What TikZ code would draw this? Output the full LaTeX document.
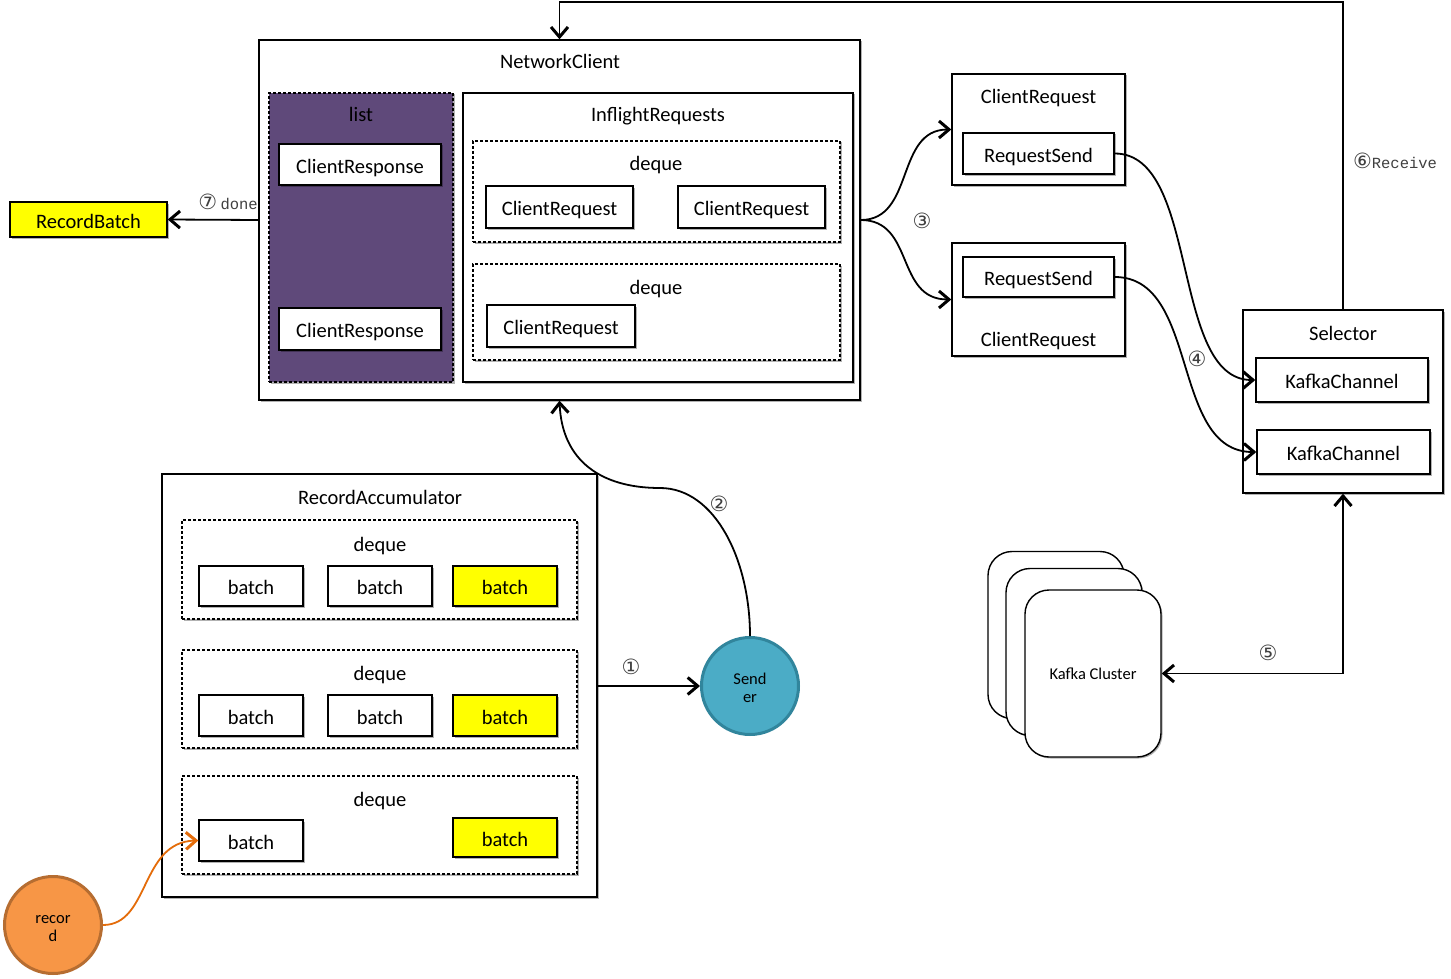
\documentclass[tikz,border=0pt]{standalone}
\usepackage{fontspec}
\setmainfont{Carlito}
\newfontfamily\numfont{DejaVu Sans}
\newfontfamily\labfont{Liberation Mono}
\usetikzlibrary{arrows.meta,shadows}
\definecolor{listpurple}{HTML}{5F497A}
\definecolor{sendfill}{HTML}{4BACC6}
\definecolor{senddraw}{HTML}{31859C}
\definecolor{recfill}{HTML}{F79646}
\definecolor{recdraw}{HTML}{B66D31}
\definecolor{recarrow}{HTML}{E46C0A}
\definecolor{yel}{HTML}{FFFF00}
\tikzset{
  shd/.style={drop shadow={shadow xshift=1.5pt,shadow yshift=-1.5pt,opacity=0.3,fill=black}},
  box/.style={draw=black, line width=1.4pt, fill=white, inner sep=0pt, text height=19pt, text depth=2pt, shd},
  dbox/.style={box, dashed, dash pattern=on 3pt off 2pt},
  ybox/.style={box, fill=yel},
  ttl/.style={inner sep=0pt, text height=18pt, text depth=2pt},
  lab/.style={inner sep=0pt, text=black!75, font=\numfont\fontsize{21}{24}\selectfont},
  arr/.style={line width=1.8pt, -{Straight Barb[length=10pt,width=17pt,line width=3pt]}},
  darr/.style={line width=1.8pt, {Straight Barb[length=10pt,width=17pt,line width=3pt]}-{Straight Barb[length=10pt,width=17pt,line width=3pt]}},
  kbox/.style={draw=black, line width=1.4pt, fill=white, rounded corners=24pt, minimum width=136pt, minimum height=167pt, shd},
}
\begin{document}
\begin{tikzpicture}[x=1pt,y=-1pt, font=\fontsize{20.5}{24}\selectfont]
\useasboundingbox[fill=white] (0,0) rectangle (1451,979);

% NetworkClient
\node[box, minimum width=601pt, minimum height=360pt] (nc) at (559.5,220) {};
\node[ttl] (nct) at (560,61) {NetworkClient};
\node[dbox, fill=listpurple, minimum width=184pt, minimum height=289pt] (lst) at (361,237.5) {};
\node[ttl] (lstt) at (361,114) {list};
\node[box, minimum width=162pt, minimum height=41pt] (cr1) at (360,164.5) {ClientResponse};
\node[box, minimum width=162pt, minimum height=42pt] (cr2) at (360,329) {ClientResponse};
\node[box, minimum width=390pt, minimum height=289pt] (inf) at (658,237.5) {};
\node[ttl] (inft) at (658,114) {InflightRequests};
\node[dbox, minimum width=367pt, minimum height=101pt] (dq1) at (656.5,191.5) {};
\node[ttl] (dq1t) at (656,163) {deque};
\node[box, minimum width=147pt, minimum height=42pt] (rqa) at (559.5,207) {ClientRequest};
\node[box, minimum width=147pt, minimum height=42pt] (rqb) at (751.5,207) {ClientRequest};
\node[dbox, minimum width=367pt, minimum height=96pt] (dq2) at (656.5,312) {};
\node[ttl] (dq2t) at (656,286) {deque};
\node[box, minimum width=148pt, minimum height=42pt] (rqc) at (561,326) {ClientRequest};

% RecordBatch
\node[ybox, minimum width=157pt, minimum height=35pt] (rb) at (88.5,219.5) {RecordBatch};

% ClientRequest boxes on the right
\node[box, minimum width=173pt, minimum height=111pt] (crb1) at (1038.5,129.5) {};
\node[ttl] (crb1t) at (1038.5,96) {ClientRequest};
\node[box, minimum width=151pt, minimum height=41pt] (rs1) at (1038.5,153.5) {RequestSend};
\node[box, minimum width=173pt, minimum height=113pt] (crb2) at (1038.5,299.5) {};
\node[ttl] (crb2t) at (1038.5,338) {ClientRequest};
\node[box, minimum width=151pt, minimum height=40pt] (rs2) at (1038.5,277) {RequestSend};

% Selector
\node[box, minimum width=200pt, minimum height=183pt] (sel) at (1343,401.5) {};
\node[ttl] (selt) at (1343,332) {Selector};
\node[box, minimum width=172pt, minimum height=44pt] (kc1) at (1342,380) {KafkaChannel};
\node[box, minimum width=173pt, minimum height=44pt] (kc2) at (1343.5,452) {KafkaChannel};

% Kafka cluster
\node[kbox] (kb1) at (1056,635) {};
\node[kbox] (kb2) at (1074,652) {};
\node[kbox, font=\fontsize{16.5}{20}\selectfont] (kf) at (1093,673.5) {Kafka Cluster};

% RecordAccumulator
\node[box, minimum width=435pt, minimum height=423pt] (ra) at (379.5,685.5) {};
\node[ttl] (rat) at (380,496) {RecordAccumulator};
\node[dbox, minimum width=395pt, minimum height=99pt] (da) at (379.5,569.5) {};
\node[ttl] (dat) at (380,543) {deque};
\node[box, minimum width=104pt, minimum height=40pt] (ba1) at (251,586) {batch};
\node[box, minimum width=104pt, minimum height=40pt] (ba2) at (380,586) {batch};
\node[ybox, minimum width=104pt, minimum height=40pt] (ba3) at (505,586) {batch};
\node[dbox, minimum width=395pt, minimum height=98pt] (db) at (379.5,699) {};
\node[ttl] (dbt) at (380,672) {deque};
\node[box, minimum width=104pt, minimum height=41pt] (bb1) at (251,715.5) {batch};
\node[box, minimum width=104pt, minimum height=41pt] (bb2) at (380,715.5) {batch};
\node[ybox, minimum width=104pt, minimum height=41pt] (bb3) at (505,715.5) {batch};
\node[dbox, minimum width=395pt, minimum height=98pt] (dc) at (379.5,825) {};
\node[ttl] (dct) at (380,798) {deque};
\node[box, minimum width=104pt, minimum height=41pt] (bc1) at (251,840.5) {batch};
\node[ybox, minimum width=104pt, minimum height=39pt] (bc3) at (505,837.5) {batch};

% Sender and record
\node[circle, draw=senddraw, fill=sendfill, line width=3pt, minimum size=97pt, inner sep=0pt, align=center,
      font=\fontsize{16.5}{18}\selectfont] (snd) at (750,686) {\rule{0pt}{15pt}Send\\er};
\node[circle, draw=recdraw, fill=recfill, line width=3pt, minimum size=97pt, inner sep=0pt, align=center,
      font=\fontsize{16.5}{18}\selectfont] (rec) at (53,925) {\rule{0pt}{15pt}recor\\d};

% connectors
\draw[arr] (nc.west) -- (rb.east);
\node[ttl] (l7) at (228,201) {{\numfont\fontsize{21}{24}\selectfont\color{black!75}⑦}\,{\labfont\fontsize{15.5}{18}\selectfont\color{black!75}done}};

\draw[arr] (nc.east) .. controls (915,220) and (895,129.5) .. (crb1.west);
\draw[arr] (nc.east) .. controls (915,220) and (895,299.5) .. (crb2.west);
\node[lab] (l3) at (922,221) {③};

\draw[arr] (rs1.east) .. controls (1200,153.5) and (1170,380) .. (kc1.west);
\draw[arr] (rs2.east) .. controls (1200,277) and (1170,452) .. (kc2.west);
\node[lab] (l4) at (1197,359) {④};

\coordinate (topy) at (0,2);
\draw[arr] (sel.north) -- (sel.north |- topy) -| (nc.north);
\node[ttl] (l6) at (1395,160) {{\numfont\fontsize{21}{24}\selectfont\color{black!75}⑥}{\labfont\fontsize{15.5}{18}\selectfont\color{black!75}Receive}};

\draw[darr] (kf.east) -- (kf.east -| sel.south) -- (sel.south);
\node[lab] (l5) at (1268,653) {⑤};

\draw[arr] (ra.east |- snd) -- (snd.west);
\node[lab] (l1) at (631,667) {①};

\draw[arr] (snd.north) .. controls (750,560) and (715,488) .. (660,488) .. controls (600,488) and (562,460) .. (nc.south);
\node[lab] (l2) at (719,504) {②};

\draw[line width=1.8pt, draw=recarrow, -{Straight Barb[length=10pt,width=17pt,line width=3pt]}]
  (rec.east) .. controls (150,925) and (140,842) .. (bc1.west);
\end{tikzpicture}
\end{document}
